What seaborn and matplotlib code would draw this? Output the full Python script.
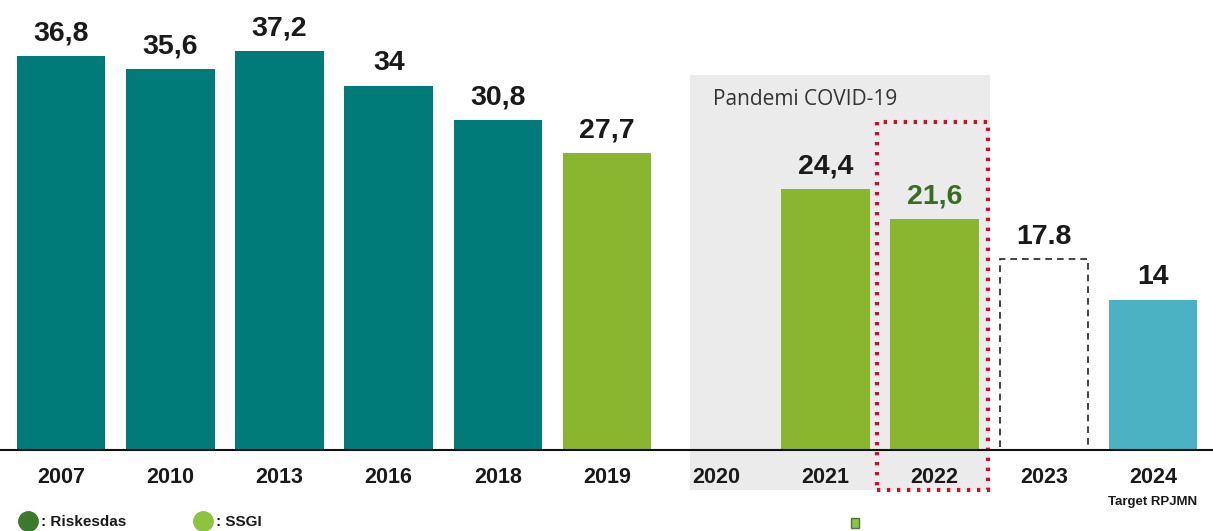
import numpy as np
import pandas as pd
import matplotlib
matplotlib.use("Agg")
import matplotlib.pyplot as plt
import matplotlib.patches as mpatches
from matplotlib.lines import Line2D
import seaborn as sns

years = ["2007", "2010", "2013", "2016", "2018", "2019", "2020", "2021", "2022", "2023", "2024"]
values = [36.8, 35.6, 37.2, 34.0, 30.8, 27.7, np.nan, 24.4, 21.6, 17.8, 14.0]
value_labels = ["36,8", "35,6", "37,2", "34", "30,8", "27,7", "", "24,4", "21,6", "17.8", "14"]
bar_colors = ["#007B7A", "#007B7A", "#007B7A", "#007B7A", "#007B7A", "#8AB52E",
              "#8AB52E", "#8AB52E", "#8AB52E", "#FFFFFF", "#4BB2C3"]
label_colors = ["#1a1a1a"] * 8 + ["#3A6B25", "#1a1a1a", "#1a1a1a"]
legend_names = [": Riskesdas", ": SSGI"]
legend_colors = ["#3B7A2D", "#8CC43F"]

sns.set_style("white")
plt.rcParams["font.family"] = ["Liberation Sans", "DejaVu Sans"]

W, H = 1213, 531
fig = plt.figure(figsize=(W / 100, H / 100), dpi=100)
ax = fig.add_axes([0, (H - 450) / H, 1, 450 / H])

df = pd.DataFrame({"year": years, "value": values})
sns.barplot(data=df, x="year", y="value", hue="year", order=years, hue_order=years,
            palette=dict(zip(years, bar_colors)), legend=False, width=0.81,
            saturation=1, linewidth=0, ax=ax, zorder=3)

# 2023 bar: white with dashed outline
for p, y in zip(ax.patches, [y for y, v in zip(years, values) if not np.isnan(v)]):
    if y == "2023":
        p.set_edgecolor("#222222")
        p.set_linestyle((0, (4, 3)))
        p.set_linewidth(1.2)

ax.set_xlim(-0.56, 10.55)
ax.set_ylim(0, 42.0)

# COVID shading
ax.add_patch(mpatches.Rectangle((5.76, -3.73), 8.51 - 5.76, 35.0 + 3.73,
                                facecolor="#EBEBEB", edgecolor="none",
                                clip_on=False, zorder=0))
ax.text(5.97, 32.7, "Pandemi COVID-19", fontsize=15, color="#333333",
        ha="left", va="center", family=["Open Sans", "DejaVu Sans"], zorder=4)

# red dotted highlight
ax.add_patch(mpatches.Rectangle((7.47, -3.73), 8.49 - 7.47, 30.6 + 3.73,
                                facecolor="none", edgecolor="#C8102E",
                                linestyle=(0, (0.8, 1.6)), linewidth=3,
                                clip_on=False, zorder=5))

# value labels
for i, (v, lab, c) in enumerate(zip(values, value_labels, label_colors)):
    if np.isnan(v):
        continue
    ax.text(i, v + 2.1, lab, ha="center", va="center", fontsize=20.5,
            fontweight="bold", color=c, zorder=6)

# baseline + ticks
for s in ["top", "right", "left"]:
    ax.spines[s].set_visible(False)
ax.spines["bottom"].set_color("#111111")
ax.spines["bottom"].set_linewidth(1.5)
ax.spines["bottom"].set_zorder(6)
ax.set_yticks([])
ax.set_xlabel("")
ax.set_ylabel("")
ax.tick_params(axis="x", length=0, pad=12, labelsize=15.5)
for t in ax.get_xticklabels():
    t.set_fontweight("bold")
    t.set_color("#1a1a1a")

ax.text(10, -4.9, "Target RPJMN", ha="center", va="center", fontsize=9.5,
        fontweight="bold", color="#1a1a1a", clip_on=False)

# legend
for x0, name, col in zip([28, 203], legend_names, legend_colors):
    fig.add_artist(Line2D([x0 / W], [1 - 521 / H], marker="o", markersize=14,
                          color=col, linestyle="none", transform=fig.transFigure))
    fig.text((x0 + 13) / W, 1 - 522 / H, name, fontsize=11, fontweight="bold",
             color="#1a1a1a", ha="left", va="center")
fig.add_artist(mpatches.Rectangle((851 / W, 1 - 528 / H), 8 / W, 10 / H,
                                  facecolor="#8CC43F", edgecolor="#4a7a3a",
                                  transform=fig.transFigure))

fig.savefig("out.png", dpi=100)
